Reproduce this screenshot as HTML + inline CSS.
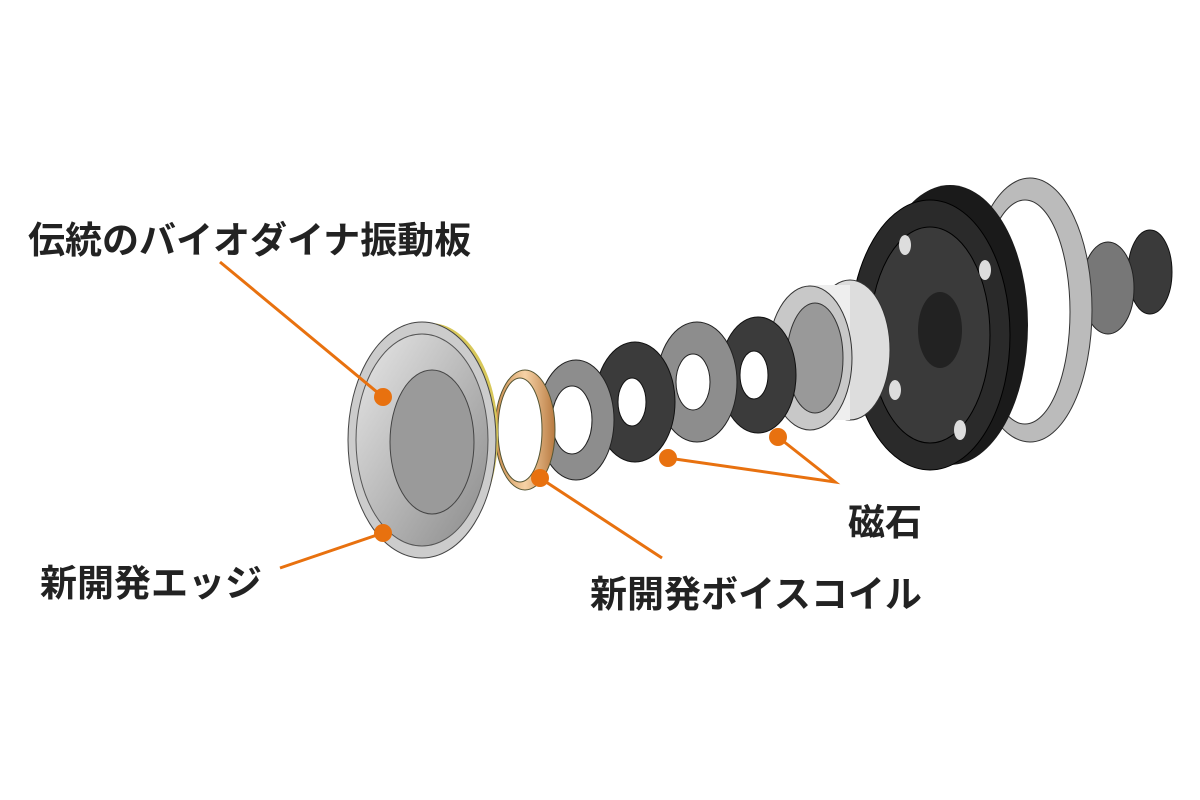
<!DOCTYPE html>
<html><head><meta charset="utf-8"><style>
html,body{margin:0;padding:0;background:#fff;}
.w{position:relative;width:1200px;height:800px;overflow:hidden;font-family:"Liberation Sans","Noto Sans CJK JP",sans-serif;}
.t{position:absolute;font-weight:bold;color:#222;white-space:nowrap;}
</style></head><body><div class="w">
<svg width="1200" height="800" style="position:absolute;left:0;top:0">
<defs>
<linearGradient id="g1" x1="0" y1="0" x2="1" y2="1"><stop offset="0" stop-color="#e8e8e8"/><stop offset="1" stop-color="#8a8a8a"/></linearGradient>
<linearGradient id="g2" x1="0" y1="0" x2="1" y2="0"><stop offset="0" stop-color="#c98a4a"/><stop offset="0.5" stop-color="#f6d2a6"/><stop offset="1" stop-color="#b87a40"/></linearGradient>
</defs>
<ellipse cx="1150" cy="272" rx="22" ry="42" fill="#3a3a3a" stroke="#111"/>
<ellipse cx="1108" cy="288" rx="26" ry="46" fill="#777" stroke="#222"/>
<ellipse cx="1030" cy="310" rx="62" ry="132" fill="#bbb" stroke="#333"/>
<ellipse cx="1025" cy="312" rx="45" ry="112" fill="#fff" stroke="#333"/>
<ellipse cx="950" cy="325" rx="78" ry="140" fill="#1a1a1a"/>
<ellipse cx="930" cy="335" rx="80" ry="135" fill="#2a2a2a" stroke="#000"/>
<ellipse cx="930" cy="335" rx="60" ry="108" fill="#3a3a3a" stroke="#000"/>
<ellipse cx="940" cy="330" rx="22" ry="38" fill="#222"/>
<g fill="#ddd"><ellipse cx="905" cy="245" rx="6" ry="10"/><ellipse cx="895" cy="390" rx="6" ry="10"/><ellipse cx="960" cy="430" rx="6" ry="10"/><ellipse cx="985" cy="270" rx="6" ry="10"/></g>
<ellipse cx="850" cy="350" rx="40" ry="70" fill="#ddd" stroke="#333"/>
<rect x="808" y="285" width="42" height="135" fill="#eee"/>
<ellipse cx="810" cy="358" rx="42" ry="72" fill="#c8c8c8" stroke="#333"/>
<ellipse cx="815" cy="358" rx="28" ry="55" fill="#999" stroke="#333"/>
<ellipse cx="758" cy="375" rx="38" ry="58" fill="#3b3b3b" stroke="#111"/>
<ellipse cx="754" cy="375" rx="14" ry="24" fill="#fff" stroke="#111"/>
<ellipse cx="697" cy="382" rx="40" ry="60" fill="#8d8d8d" stroke="#222"/>
<ellipse cx="693" cy="382" rx="17" ry="28" fill="#fff" stroke="#222"/>
<ellipse cx="635" cy="402" rx="40" ry="60" fill="#3b3b3b" stroke="#111"/>
<ellipse cx="632" cy="402" rx="14" ry="24" fill="#fff" stroke="#111"/>
<ellipse cx="576" cy="420" rx="38" ry="60" fill="#8d8d8d" stroke="#222"/>
<ellipse cx="572" cy="420" rx="20" ry="34" fill="#fff" stroke="#222"/>
<ellipse cx="525" cy="430" rx="30" ry="60" fill="url(#g2)" stroke="#553"/>
<ellipse cx="520" cy="430" rx="22" ry="52" fill="#fff" stroke="#553"/>
<ellipse cx="430" cy="435" rx="68" ry="112" fill="#d8c85a"/>
<ellipse cx="422" cy="440" rx="74" ry="118" fill="#ccc" stroke="#444"/>
<ellipse cx="422" cy="440" rx="66" ry="106" fill="url(#g1)" stroke="#555"/>
<ellipse cx="432" cy="442" rx="42" ry="72" fill="#9a9a9a" stroke="#444"/>
<g stroke="#e8710f" stroke-width="3" fill="none">
<line x1="220" y1="262" x2="383" y2="397"/>
<line x1="280" y1="568" x2="383" y2="533"/>
<line x1="540" y1="478" x2="662" y2="558"/>
<polyline points="668,458 835,482 778,437"/>
</g>
<g fill="#e8710f">
<circle cx="383" cy="397" r="9"/><circle cx="383" cy="533" r="9"/>
<circle cx="540" cy="478" r="9"/><circle cx="668" cy="458" r="9"/><circle cx="778" cy="437" r="9"/>
</g>
</svg>
<div class="t" style="left:28px;top:210px;font-size:37px">伝統のバイオダイナ振動板</div>
<div class="t" style="left:40px;top:553px;font-size:37px">新開発エッジ</div>
<div class="t" style="left:590px;top:564px;font-size:37px">新開発ボイスコイル</div>
<div class="t" style="left:848px;top:492px;font-size:37px">磁石</div>
</div></body></html>
